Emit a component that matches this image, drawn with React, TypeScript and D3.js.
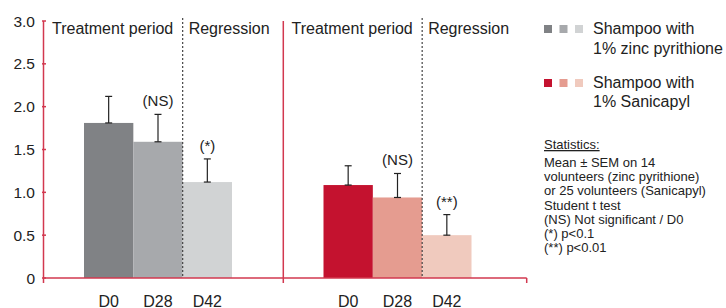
import React from 'react';
import * as d3 from 'd3';

// data
const days = ['D0', 'D28', 'D42'];
const zincMeans = [1.81, 1.59, 1.12];
const zincErrTop = [2.12, 1.91, 1.39];
const zincSig = ['', '(NS)', '(*)'];
const saniMeans = [1.085, 0.94, 0.5];
const saniErrTop = [1.31, 1.22, 0.74];
const saniSig = ['', '(NS)', '(**)'];
const yTicks = [0, 0.5, 1.0, 1.5, 2.0, 2.5, 3.0];
const zincColors = ['#808285', '#a7a9ac', '#d1d3d4'];
const saniColors = ['#c4122f', '#e59c90', '#f0cabe'];
const statLines = [
  'Mean ± SEM on 14',
  'volunteers (zinc pyrithione)',
  'or 25 volunteers (Sanicapyl)',
  'Student t test',
  '(NS) Not significant / D0',
  '(*) p<0.1',
  '(**) p<0.01',
];

const axisRed = '#d2384f';
const font = 'Liberation Sans, Arial, Helvetica, sans-serif';

export default function App() {
  const width = 726;
  const height = 308;
  const y = d3.scaleLinear().domain([0, 3]).range([278, 21]);
  const x = d3.scaleBand().domain(days).range([84, 232]).paddingInner(0);
  const panelShift = 239.5;

  const panels = [
    { off: 0, means: zincMeans, errs: zincErrTop, sig: zincSig, colors: zincColors },
    { off: panelShift, means: saniMeans, errs: saniErrTop, sig: saniSig, colors: saniColors },
  ];

  const divider = (x('D28') as number) + x.bandwidth();

  return (
    <svg width={width} height={height} style={{ position: 'absolute', left: 0, top: 0 }}
      fontFamily={font}>
      {/* bars, errors, labels */}
      {panels.map((p, pi) => (
        <g key={pi} transform={`translate(${p.off},0)`}>
          {days.map((d, i) => {
            const bx = x(d) as number;
            const cx = bx + x.bandwidth() / 2;
            return (
              <g key={d}>
                <rect x={bx} y={y(p.means[i])} width={x.bandwidth()}
                  height={y(0) - y(p.means[i])} fill={p.colors[i]} />
                <line x1={cx} x2={cx} y1={y(p.means[i])} y2={y(p.errs[i])}
                  stroke="#222" strokeWidth={1.2} />
                <line x1={cx - 3.5} x2={cx + 3.5} y1={y(p.errs[i])} y2={y(p.errs[i])}
                  stroke="#222" strokeWidth={1.2} />
                <line x1={cx - 3.5} x2={cx + 3.5} y1={y(p.means[i])} y2={y(p.means[i])}
                  stroke="#222" strokeWidth={1.2} />
                {p.sig[i] && (
                  <text x={cx} y={y(p.errs[i]) - 8} textAnchor="middle" fontSize={15}
                    fill="#222">{p.sig[i]}</text>
                )}
                <text x={cx} y={306.5} textAnchor="middle" fontSize={16} fill="#222">{d}</text>
              </g>
            );
          })}
          <line x1={divider} x2={divider} y1={18} y2={y(0)} stroke="#444"
            strokeWidth={1.2} strokeDasharray="2,2" />
          <text x={52} y={33.5} fontSize={16} fill="#222">Treatment period</text>
          <text x={divider + 6} y={33.5} fontSize={16} fill="#222">Regression</text>
        </g>
      ))}

      {/* axes */}
      <line x1={43.5} x2={43.5} y1={y(3)} y2={283} stroke={axisRed} strokeWidth={1.5} />
      <line x1={283.3} x2={283.3} y1={y(3)} y2={283} stroke={axisRed} strokeWidth={1.5} />
      <line x1={43.5} x2={526.7} y1={y(0)} y2={y(0)} stroke={axisRed} strokeWidth={1.5} />
      <line x1={526.7} x2={526.7} y1={y(0)} y2={283} stroke={axisRed} strokeWidth={1.5} />
      {yTicks.map((t) => (
        <g key={t}>
          <line x1={42} x2={46} y1={y(t)} y2={y(t)} stroke={axisRed} strokeWidth={1.5} />
          <text x={35} y={y(t) + 5.5} textAnchor="end" fontSize={15.5} fill="#222">
            {t === 0 ? '0' : d3.format('.1f')(t)}
          </text>
        </g>
      ))}

      {/* legend */}
      {[zincColors, saniColors].map((cols, li) => (
        <g key={li} transform={`translate(0,${li * 54})`}>
          {cols.map((c, i) => (
            <rect key={c} x={544 + i * 15.5} y={25} width={8} height={8} fill={c} />
          ))}
        </g>
      ))}
      <text fontSize={16} fill="#222">
        <tspan x={593} y={34}>Shampoo with</tspan>
        <tspan x={593} y={53.5}>1% zinc pyrithione</tspan>
        <tspan x={593} y={87.5}>Shampoo with</tspan>
        <tspan x={593} y={106.5}>1% Sanicapyl</tspan>
      </text>

      {/* statistics */}
      <text x={544} y={149} fontSize={13} fill="#222" textDecoration="underline">Statistics:</text>
      <text fontSize={13} fill="#222">
        {statLines.map((s, i) => (
          <tspan key={i} x={544} y={167 + i * 14.2}>{s}</tspan>
        ))}
      </text>
    </svg>
  );
}
